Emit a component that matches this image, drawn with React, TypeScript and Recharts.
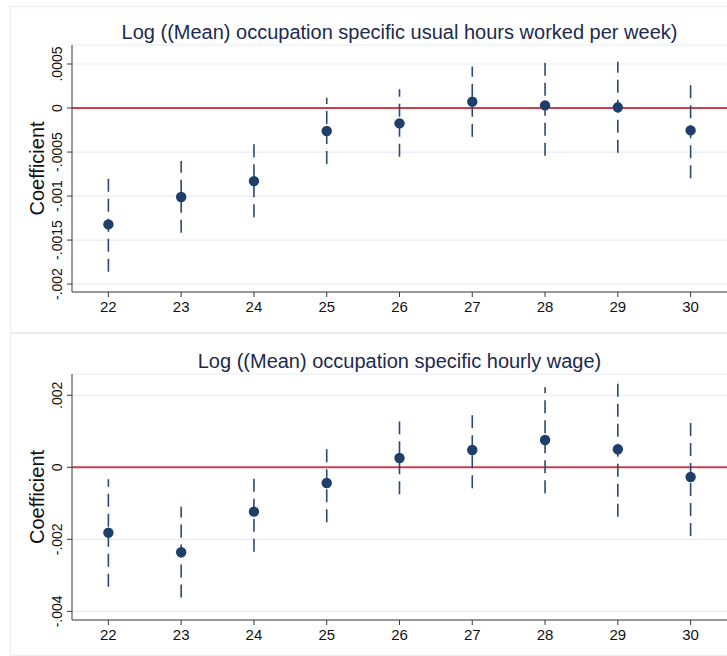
import React from "react";
import { ComposedChart, Scatter, ErrorBar, XAxis, YAxis, CartesianGrid, ReferenceLine, Label } from "recharts";

// quarters (x axis)
const years = [22, 23, 24, 25, 26, 27, 28, 29, 30];

// top panel: log mean usual hours
const hoursCoef = [-0.001322, -0.001011, -0.00083, -0.000261, -0.000174, 0.000072, 0.00003, 0.000008, -0.000254];
const hoursLo = [-0.00186, -0.001417, -0.001242, -0.000636, -0.000553, -0.000326, -0.000542, -0.000508, -0.000799];
const hoursHi = [-0.000773, -0.000602, -0.000409, 0.000117, 0.000212, 0.000473, 0.000545, 0.000526, 0.000292];
const hoursTicks = [-0.002, -0.0015, -0.001, -0.0005, 0, 0.0005];
const hoursTickLabels = ["-.002", "-.0015", "-.001", "-.0005", "0", ".0005"];

// bottom panel: log mean hourly wage
const wageCoef = [-0.001816, -0.00236, -0.001232, -0.000437, 0.000259, 0.000481, 0.000759, 0.0005, -0.000269];
const wageLo = [-0.003316, -0.003612, -0.002343, -0.001528, -0.00075, -0.000583, -0.000722, -0.001372, -0.001908];
const wageHi = [-0.000334, -0.001094, -0.000232, 0.000583, 0.001268, 0.001518, 0.002222, 0.002361, 0.001342];
const wageTicks = [-0.004, -0.002, 0, 0.002];
const wageTickLabels = ["-.004", "-.002", "0", ".002"];

const font = "'Liberation Sans', Arial, Helvetica, sans-serif";
const navy = "#1f3f6b";
const barColor = "#2b4a72";

type PanelProps = {
  title: string;
  coef: number[];
  lo: number[];
  hi: number[];
  ticks: number[];
  tickLabels: string[];
  domain: [number, number];
  top: number;
  height: number;
  marginTop: number;
  marginBottom: number;
  titleTop: number;
};

function Panel(p: PanelProps) {
  const data = years.map((x, i) => ({
    x,
    y: p.coef[i],
    err: [p.coef[i] - p.lo[i], p.hi[i] - p.coef[i]],
  }));

  const yTick = (t: any) => {
    const idx = p.ticks.findIndex((v) => Math.abs(v - t.payload.value) < 1e-9);
    return (
      <text
        transform={`translate(61.5, ${t.y}) rotate(-90)`}
        textAnchor="middle"
        fontSize={14}
        fontFamily={font}
        fill="#111"
      >
        {idx >= 0 ? p.tickLabels[idx] : ""}
      </text>
    );
  };

  return (
    <div
      style={{
        position: "absolute",
        left: 0,
        top: p.top,
        width: 727,
        height: p.height,
      }}
    >
      <div
        style={{
          position: "absolute",
          left: 10,
          top: 6,
          width: 740,
          height: p.height - 6,
          border: "1px solid #e8eef3",
          boxSizing: "border-box",
        }}
      />
      <ComposedChart
        width={727}
        height={p.height}
        data={data}
        margin={{ top: p.marginTop, right: 0, bottom: p.marginBottom, left: 0 }}
        style={{ position: "absolute", left: 0, top: 0 }}
      >
        <CartesianGrid vertical={false} stroke="#e6edf2" strokeWidth={1.2} />
        <XAxis
          type="number"
          dataKey="x"
          domain={[21.5, 30.5]}
          ticks={years}
          allowDataOverflow
          tickSize={5}
          tickMargin={4}
          height={30}
          axisLine={{ stroke: "#3a3a3a" }}
          tickLine={{ stroke: "#3a3a3a" }}
          tick={{ fontSize: 15, fontFamily: font, fill: "#111" }}
        />
        <YAxis
          type="number"
          dataKey="y"
          domain={p.domain}
          ticks={p.ticks}
          allowDataOverflow
          width={72}
          tickSize={5}
          axisLine={{ stroke: "#3a3a3a" }}
          tickLine={{ stroke: "#3a3a3a" }}
          tick={yTick}
        >
          <Label
            content={(lp: any) => {
              const vb = lp.viewBox || { y: 0, height: 0 };
              const cy = vb.y + vb.height / 2;
              return (
                <text
                  transform={`translate(44, ${cy}) rotate(-90)`}
                  textAnchor="middle"
                  fontSize={20}
                  fontFamily={font}
                  fill="#111"
                >
                  Coefficient
                </text>
              );
            }}
          />
        </YAxis>
        <ReferenceLine y={0} stroke="#c8414b" strokeWidth={2} />
        <Scatter
          dataKey="y"
          fill={navy}
          isAnimationActive={false}
          shape={(s: any) => <circle cx={s.cx} cy={s.cy} r={5.2} fill={navy} />}
        >
          <ErrorBar
            dataKey="err"
            direction="y"
            width={0}
            stroke={barColor}
            strokeWidth={1.6}
            strokeDasharray="13 7"
            isAnimationActive={false}
          />
        </Scatter>
      </ComposedChart>
      <div
        style={{
          position: "absolute",
          left: 72,
          width: 655,
          top: p.titleTop,
          textAlign: "center",
          fontFamily: font,
          fontSize: 20,
          lineHeight: "24px",
          color: "#1c2a4e",
          whiteSpace: "nowrap",
        }}
      >
        {p.title}
      </div>
    </div>
  );
}

export default function App() {
  return (
    <div
      style={{
        position: "absolute",
        left: 0,
        top: 0,
        width: 727,
        height: 656,
        background: "#fff",
        overflow: "hidden",
      }}
    >
      <Panel
        title="Log ((Mean) occupation specific usual hours worked per week)"
        coef={hoursCoef}
        lo={hoursLo}
        hi={hoursHi}
        ticks={hoursTicks}
        tickLabels={hoursTickLabels}
        domain={[-0.00209, 0.000716]}
        top={0}
        height={333}
        marginTop={45}
        marginBottom={11}
        titleTop={20}
      />
      <Panel
        title="Log ((Mean) occupation specific hourly wage)"
        coef={wageCoef}
        lo={wageLo}
        hi={wageHi}
        ticks={wageTicks}
        tickLabels={wageTickLabels}
        domain={[-0.00424, 0.00259]}
        top={327}
        height={329}
        marginTop={47}
        marginBottom={6}
        titleTop={21.5}
      />
    </div>
  );
}
